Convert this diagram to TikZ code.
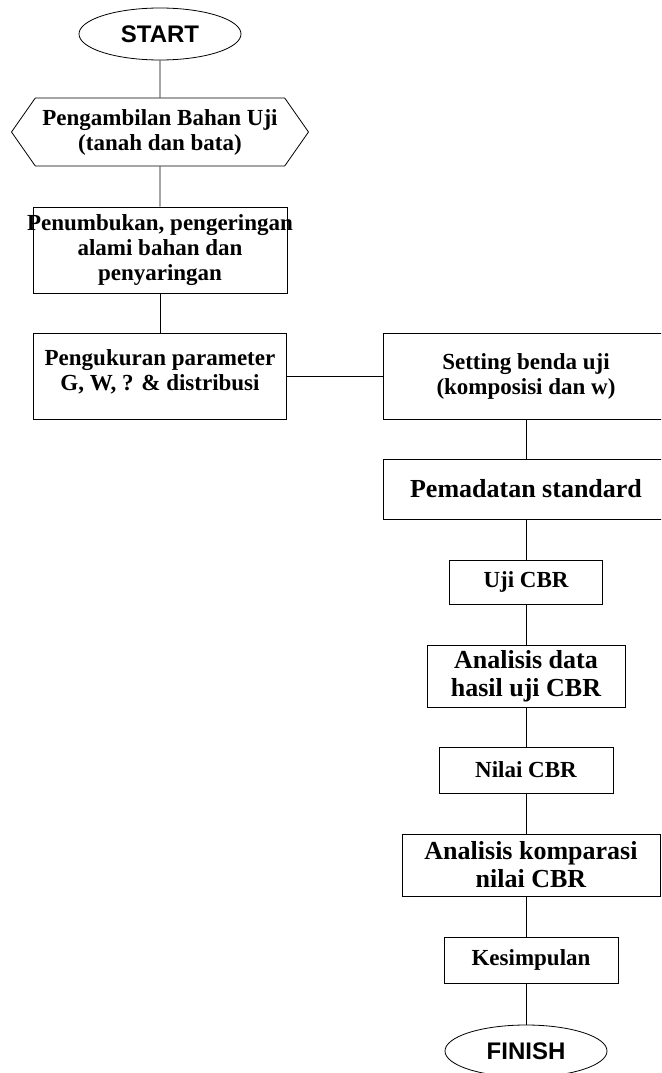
\documentclass[tikz,border=0pt]{standalone}
\usepackage{fontspec}
\setmainfont{Liberation Serif}
\setsansfont{Liberation Sans}
\usetikzlibrary{shapes.geometric}
\usetikzlibrary{shapes.symbols}
\tikzset{
	box/.style={draw, rectangle, inner sep=0pt, align=center,
		font=\bfseries\fontsize{23}{25}\selectfont},
	bigbox/.style={box, font=\bfseries\fontsize{26}{28}\selectfont},
	termin/.style={draw, ellipse, inner sep=0pt, minimum width=162pt,
		minimum height=52pt, font=\sffamily\bfseries\fontsize{24}{26}\selectfont},
	hexbox/.style={draw, signal, signal to=west and east, signal pointer angle=110,
		inner sep=0pt, minimum width=297pt, minimum height=68pt, align=center,
		font=\bfseries\fontsize{23}{25}\selectfont}
}

\begin{document}
\begin{tikzpicture}[x=1pt,y=-1pt,line width=0.8pt]
	\useasboundingbox (0,0) rectangle (661,1073);
	\clip (0,0) rectangle (661,1073);
	% left column
	\node[termin] (start) at (160,34) {START};
	\node[hexbox] (ambil) at (160,132) {Pengambilan Bahan Uji\\(tanah dan bata)};
	\node[box, minimum width=254pt, minimum height=86pt] (tumbuk) at (160,250)
		{\makebox[254pt]{Penumbukan, pengeringan}\\alami bahan dan\\penyaringan};
	\node[box, minimum width=253pt, minimum height=86pt] (ukur) at (160,376)
		{Pengukuran parameter\\G, W, ? \& distribusi\\[-13pt]};
	% right column
	\node[box, minimum width=286pt, minimum height=86pt] (setting) at (526,376)
		{Setting benda uji\\(komposisi dan w)};
	\node[bigbox, minimum width=286pt, minimum height=60pt] (padat) at (526,489)
		{Pemadatan standard};
	\node[box, minimum width=153pt, minimum height=44pt] (ujicbr) at (526,582) {Uji CBR};
	\node[bigbox, minimum width=198pt, minimum height=62pt] (anadata) at (526,676)
		{Analisis data\\hasil uji CBR};
	\node[box, minimum width=174pt, minimum height=46pt] (nilai) at (526,770) {Nilai CBR};
	\node[bigbox, minimum width=258pt, minimum height=62pt] (komp) at (531,865)
		{Analisis komparasi\\nilai CBR};
	\node[box, minimum width=174pt, minimum height=46pt] (simpul) at (531,960) {Kesimpulan};
	\node[termin] (finish) at (526,1051) {FINISH};
	% connectors
	\draw (start) -- (ambil);
	\draw (ambil) -- (tumbuk);
	\draw (tumbuk) -- (ukur);
	\draw (ukur) -- (setting);
	\draw (setting) -- (padat);
	\draw (padat) -- (ujicbr);
	\draw (ujicbr) -- (anadata);
	\draw (anadata) -- (nilai);
	\draw (nilai.south) -- (nilai.south |- komp.north);
	\draw (nilai.south |- komp.south) -- (nilai.south |- simpul.north);
	\draw (finish.north |- simpul.south) -- (finish);
\end{tikzpicture}
\end{document}
